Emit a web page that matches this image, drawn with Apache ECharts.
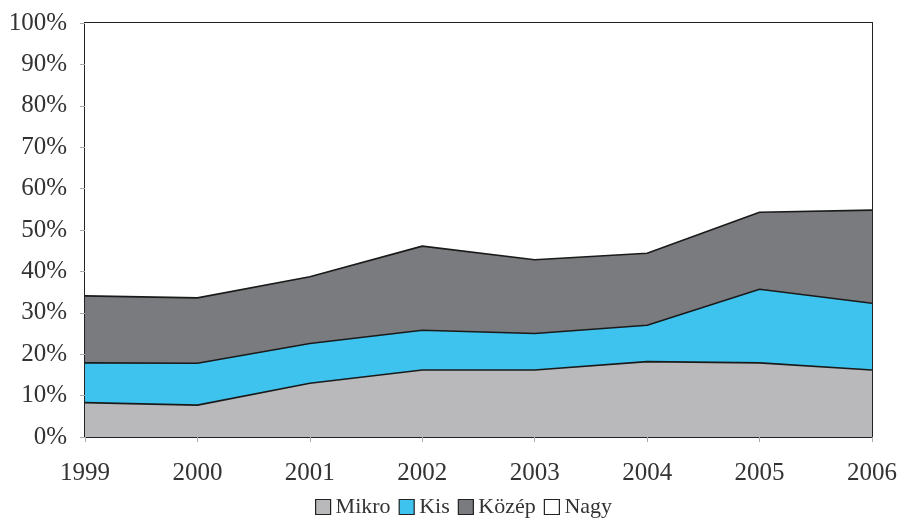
<!DOCTYPE html>
<html><head><meta charset="utf-8">
<script src="https://cdn.jsdelivr.net/npm/echarts@6/dist/echarts.min.js"></script>
<style>html,body{margin:0;padding:0;background:#fff}#c{width:900px;height:526px}</style>
</head><body><div id="c"></div>
<script>
const years = ['1999','2000','2001','2002','2003','2004','2005','2006'];
const mikro = [8.3, 7.7, 13.0, 16.2, 16.2, 18.2, 17.9, 16.2];
const kis   = [9.6, 10.1, 9.6, 9.6, 8.8, 8.8, 17.8, 16.1];
const kozep = [16.2, 15.8, 16.1, 20.3, 17.8, 17.4, 18.6, 22.5];
const nagy  = [65.9, 66.4, 61.3, 53.9, 57.2, 55.6, 45.7, 45.2];
const names = ['Mikro','Kis','Közép','Nagy'];
const colors = ['#b9b9bb','#3ec3ee','#7a7b7e','#ffffff'];
const yTicks = [0,10,20,30,40,50,60,70,80,90,100];

const font = '"Liberation Serif", "DejaVu Serif", serif';
const chart = echarts.init(document.getElementById('c'));
const data = [mikro, kis, kozep, nagy];
chart.setOption({
  animation: false,
  textStyle: {fontFamily: font},
  grid: {left: 85, right: 27, top: 23, bottom: 89, show: true, borderColor: '#222', borderWidth: 2, backgroundColor: 'transparent'},
  legend: {
    bottom: 3, left: 310, itemWidth: 15, itemHeight: 15, itemGap: 8,
    icon: 'rect',
    textStyle: {fontFamily: font, fontSize: 22, color: '#333', padding: [0,0,0,0]},
    data: names.map((n,i)=>({name:n, itemStyle:{color:colors[i], borderColor:'#222', borderWidth:1.2}}))
  },
  xAxis: {
    type: 'category', data: years, boundaryGap: false,
    axisLine: {show: true, lineStyle: {color: '#222', width: 2}},
    axisTick: {show: true, length: 5, lineStyle: {color: '#aaa'}},
    axisLabel: {fontFamily: font, fontSize: 25, color: '#333', margin: 24}
  },
  yAxis: {
    type: 'value', min: 0, max: 100, interval: 10,
    splitLine: {show: false},
    axisLine: {show: true, lineStyle: {color: '#222', width: 2}},
    axisTick: {show: true, length: 5, lineStyle: {color: '#aaa'}},
    axisLabel: {fontFamily: font, fontSize: 25, color: '#333', margin: 18,
      formatter: v => yTicks.includes(v) ? v + '%' : ''}
  },
  series: names.map((n,i)=>({
    name: n, type: 'line', stack: 'total', data: data[i],
    symbol: 'none', z: 2,
    lineStyle: {color: '#1a1a1a', width: i===3 ? 0 : 1.6},
    itemStyle: {color: colors[i]},
    areaStyle: {color: colors[i], opacity: 1}
  }))
});
</script></body></html>
